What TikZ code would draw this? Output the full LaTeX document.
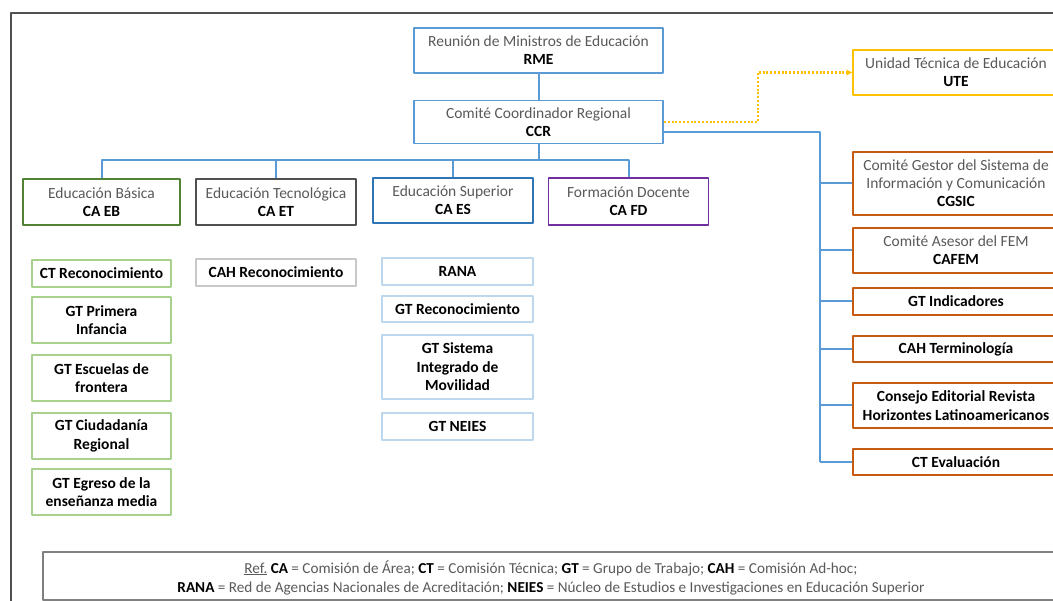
\documentclass[tikz,border=0pt]{standalone}
\usepackage{fontspec}
\setmainfont{Carlito}
\usetikzlibrary{arrows.meta}
\definecolor{azul}{HTML}{5B9BD5}
\definecolor{azulosc}{HTML}{2E75B6}
\definecolor{azulcla}{HTML}{BDD7EE}
\definecolor{verdeosc}{HTML}{548235}
\definecolor{verdecla}{HTML}{A9D18E}
\definecolor{grisosc}{HTML}{505050}
\definecolor{griscla}{HTML}{C8C8C8}
\definecolor{violeta}{HTML}{7030A0}
\definecolor{amarillo}{HTML}{FFC000}
\definecolor{naranja}{HTML}{C55A11}
\definecolor{gristxt}{HTML}{595959}
\newcommand\sigla[1]{{\color{black}\bfseries #1}}
\begin{document}
\begin{tikzpicture}[x=1pt,y=-1pt,line join=round,
    caja/.style={draw,line width=1.9pt,inner sep=0pt,align=center,text=gristxt,
      font=\fontsize{15.5}{18}\selectfont},
    sub/.style={caja,line width=1.6pt,text=black,font=\bfseries\fontsize{15.5}{18.5}\selectfont},
    link/.style={draw=azul,line width=2pt}]
  \useasboundingbox (0,0) rectangle (1053,601);
  \clip (0,0) rectangle (1053,601);
  % marco y referencias
  \draw[grisosc,line width=1.5pt] (11,13) rectangle (1075,625);
  \draw[gray,line width=1.2pt] (43,552) rectangle (1059,600);
  \node[text=gristxt,align=center,font=\fontsize{15.2}{19}\selectfont] (ref) at (551,577.5)
    {\underline{Ref.} \sigla{CA} = Comisión de Área; \sigla{CT} = Comisión Técnica; \sigla{GT} = Grupo de Trabajo; \sigla{CAH} = Comisión Ad-hoc;\\
     \sigla{RANA} = Red de Agencias Nacionales de Acreditación; \sigla{NEIES} = Núcleo de Estudios e Investigaciones en Educación Superior};
  % nivel superior
  \node[caja,draw=azul,minimum width=249,minimum height=45] (rme) at (538.5,50.5)
    {Reunión de Ministros de Educación\\\sigla{RME}};
  \node[caja,draw=azul,minimum width=249,minimum height=43] (ccr) at (538.5,122)
    {Comité Coordinador Regional\\\sigla{CCR}};
  \node[caja,draw=amarillo,minimum width=206,minimum height=45] (ute) at (956,72.5)
    {Unidad Técnica de Educación\\\sigla{UTE}};
  % comisiones de area
  \node[caja,draw=verdeosc,minimum width=157,minimum height=46] (caeb) at (101.5,202)
    {Educación Básica\\\sigla{CA EB}};
  \node[caja,draw=grisosc,minimum width=160,minimum height=46] (caet) at (276,202)
    {Educación Tecnológica\\\sigla{CA ET}};
  \node[caja,draw=azulosc,minimum width=160,minimum height=45] (caes) at (453,200.5)
    {Educación Superior\\\sigla{CA ES}};
  \node[caja,draw=violeta,minimum width=160,minimum height=47] (cafd) at (628.5,201.5)
    {Formación Docente\\\sigla{CA FD}};
  % educacion basica
  \node[sub,draw=verdecla,minimum width=139,minimum height=27] (ctrec) at (101.5,273.5) {CT Reconocimiento};
  \node[sub,draw=verdecla,minimum width=139,minimum height=46] (gtpi) at (101.5,320) {GT Primera\\Infancia};
  \node[sub,draw=verdecla,minimum width=139,minimum height=46] (gtesc) at (101.5,378) {GT Escuelas de\\frontera};
  \node[sub,draw=verdecla,minimum width=139,minimum height=46] (gtciu) at (101.5,436) {GT Ciudadanía\\Regional};
  \node[sub,draw=verdecla,minimum width=139,minimum height=46] (gtegr) at (101.5,492) {GT Egreso de la\\enseñanza media};
  % educacion tecnologica
  \node[sub,draw=griscla,minimum width=160,minimum height=27] (cahrec) at (276,272.5) {CAH Reconocimiento};
  % educacion superior
  \node[sub,draw=azulcla,minimum width=151,minimum height=27] (rana) at (457.5,271.5) {RANA};
  \node[sub,draw=azulcla,minimum width=151,minimum height=26] (gtrec) at (457.5,309) {GT Reconocimiento};
  \node[sub,draw=azulcla,minimum width=151,minimum height=64] (gtsim) at (457.5,367) {GT Sistema\\Integrado de\\Movilidad};
  \node[sub,draw=azulcla,minimum width=151,minimum height=27] (gtneies) at (457.5,426.5) {GT NEIES};
  % comites del CCR
  \node[caja,draw=naranja,minimum width=206,minimum height=63] (cgsic) at (956,183.5)
    {Comité Gestor del Sistema de\\Información y Comunicación\\\sigla{CGSIC}};
  \node[caja,draw=naranja,minimum width=206,minimum height=45] (cafem) at (956,250.5)
    {Comité Asesor del FEM\\\sigla{CAFEM}};
  \node[sub,draw=naranja,line width=1.9pt,minimum width=206,minimum height=27] (gtind) at (956,301.5) {GT Indicadores};
  \node[sub,draw=naranja,line width=1.9pt,minimum width=206,minimum height=26] (cahter) at (956,349) {CAH Terminología};
  \node[sub,draw=naranja,line width=1.9pt,minimum width=206,minimum height=45] (consejo) at (956,405.5)
    {Consejo Editorial Revista\\Horizontes Latinoamericanos};
  \node[sub,draw=naranja,line width=1.9pt,minimum width=206,minimum height=26] (cteval) at (956,462) {CT Evaluación};
  % conectores
  \draw[link] (rme) -- (ccr);
  \coordinate (bus) at (538.5,160);
  \draw[link] (ccr) -- (bus);
  \foreach \n in {caeb,caet,caes,cafd}
    \draw[link] (bus) -| (\n.north);
  \coordinate (eje) at (820,462);
  \draw[link] ([yshift=-10pt]ccr.east) -| (eje);
  \foreach \n in {cgsic,cafem,gtind,cahter,consejo,cteval}
    \draw[link] (\n.west -| eje) -- (\n.west);
  \draw[amarillo,line width=2.4pt,dash pattern=on 2pt off 1.8pt,-{Stealth[length=6pt,width=6pt]}]
    (ccr.east) -- (758,122) |- (ute.west);
\end{tikzpicture}
\end{document}
